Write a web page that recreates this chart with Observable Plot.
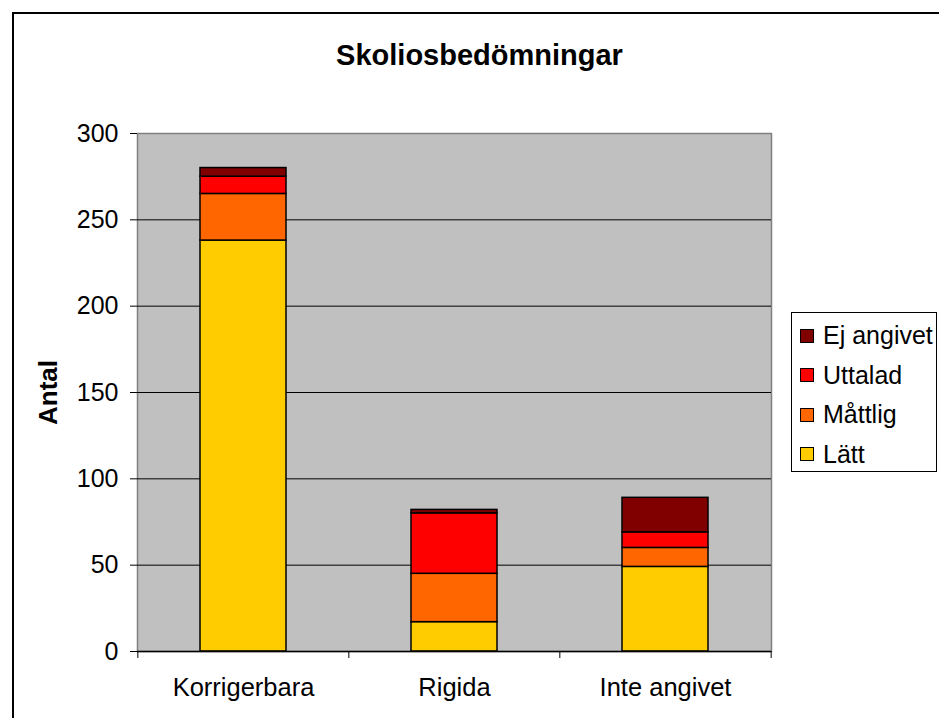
<!DOCTYPE html>
<html><head><meta charset="utf-8">
<script src="https://cdn.jsdelivr.net/npm/d3@7"></script>
<script src="https://cdn.jsdelivr.net/npm/@observablehq/plot@0.6"></script>
<style>
body{margin:0;background:#fff;overflow:hidden;font-family:'Liberation Sans',Arial,sans-serif;}
#wrap{position:relative;width:939px;height:718px;overflow:hidden;}
#border{position:absolute;left:12px;top:12px;width:1000px;height:1000px;border:2px solid #000;box-sizing:border-box;}
#chart{position:absolute;left:0;top:0;}
#legend{position:absolute;left:791px;top:312px;width:146px;height:160px;border:1px solid #000;box-sizing:border-box;background:#fff;padding-top:3px;}
.row{height:39.5px;display:flex;align-items:center;padding-left:8px;font-size:25px;color:#000;}
.sw{width:12px;height:12px;border:1.5px solid #000;margin-right:9px;flex:none;}
</style></head>
<body><div id="wrap"><div id="border"></div><div id="chart"></div><div id="legend"></div></div>
<script>
const title = "Skoliosbedömningar";
const yLabel = "Antal";
const categories = ["Korrigerbara", "Rigida", "Inte angivet"];
const series = ["Lätt", "Måttlig", "Uttalad", "Ej angivet"];
const latt = [238, 17, 49];
const mattlig = [27, 28, 11];
const uttalad = [10, 35, 9];
const ejAngivet = [5, 2, 20];
const colors = ["#FFCC00", "#FF6600", "#FF0000", "#800000"];
const yTicks = [0, 50, 100, 150, 200, 250, 300];

const valuesBySeries = [latt, mattlig, uttalad, ejAngivet];
const data = [];
series.forEach((s, si) => categories.forEach((c, ci) => data.push({category: c, series: s, value: valuesBySeries[si][ci]})));

const W = 939, H = 718, mL = 137, mR = 168, mT = 133, mB = 67;
const step = (W - mL - mR) / categories.length;

const chart = Plot.plot({
  width: W, height: H,
  marginLeft: mL, marginRight: mR, marginTop: mT, marginBottom: mB,
  style: {fontFamily: "'Liberation Sans', Arial, sans-serif", background: "transparent", color: "#000"},
  x: {type: "band", domain: categories, paddingInner: 0.593, paddingOuter: 0.2965, label: null},
  y: {domain: [0, 300], label: null},
  color: {domain: series, range: colors},
  marks: [
    Plot.frame({fill: "#C0C0C0", stroke: "#808080", strokeWidth: 1.5}),
    Plot.ruleY(yTicks.filter(d => d > 0 && d < 300), {stroke: "#000", strokeWidth: 1}),
    Plot.barY(data, {x: "category", y: "value", fill: "series", stroke: "#000", strokeWidth: 1.5}),
    Plot.ruleY([0], {stroke: "#000", strokeWidth: 1.5}),
    Plot.ruleX(categories, {x: d => d, y1: 0, y2: 0, insetBottom: -7, dx: -step / 2, stroke: "#000", strokeWidth: 1}),
    Plot.ruleX(categories.slice(-1), {x: d => d, y1: 0, y2: 0, insetBottom: -7, dx: step / 2, stroke: "#000", strokeWidth: 1}),
    Plot.axisY({ticks: yTicks, tickSize: 7, tickPadding: 12, fontSize: 25, tickFormat: d => String(d), label: null, strokeWidth: 1}),
    Plot.axisX({tickSize: 0, tickPadding: 26, fontSize: 25.5, label: null}),
    Plot.text([yLabel], {frameAnchor: "left", dx: -89, rotate: -90, textAnchor: "middle", lineAnchor: "middle", fontSize: 26, fontWeight: "bold"}),
    Plot.text([title], {frameAnchor: "top", dx: 25, dy: -78, textAnchor: "middle", lineAnchor: "middle", fontSize: 29, fontWeight: "bold"})
  ]
});
document.getElementById("chart").appendChild(chart);

const legend = document.getElementById("legend");
series.slice().reverse().forEach((s) => {
  const i = series.indexOf(s);
  const row = document.createElement("div");
  row.className = "row";
  const sw = document.createElement("span");
  sw.className = "sw";
  sw.style.background = colors[i];
  row.appendChild(sw);
  row.appendChild(document.createTextNode(s));
  legend.appendChild(row);
});
</script></body></html>
